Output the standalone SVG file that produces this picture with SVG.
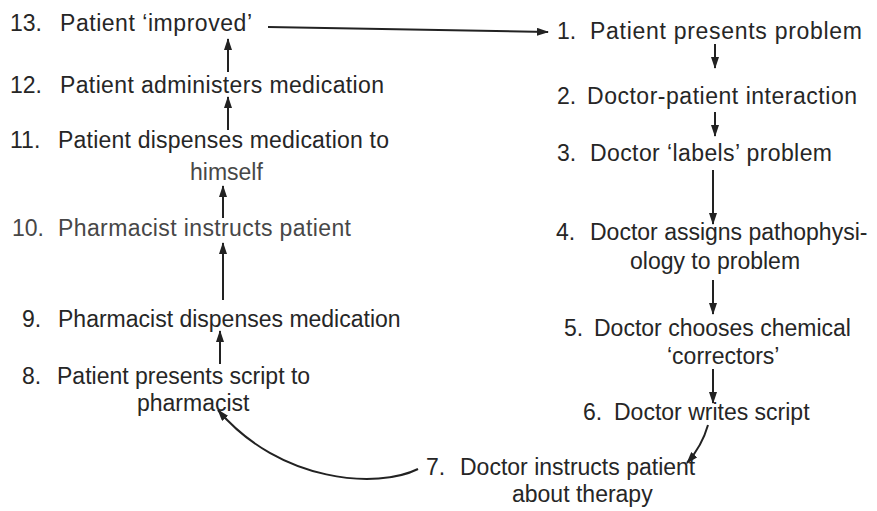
<svg xmlns="http://www.w3.org/2000/svg" width="877" height="511" viewBox="0 0 877 511">
<style>
text{font-family:"Liberation Sans",Arial,sans-serif;font-size:23px;fill:#262626;}
.lt{fill:#474747;}
.c{fill:none;stroke:#222;stroke-width:2;}
</style>
<defs>
<marker id="ah" viewBox="0 0 12 8" refX="11" refY="4" markerWidth="12" markerHeight="8" markerUnits="userSpaceOnUse" orient="auto">
<path d="M0,0 L12,4 L0,8 Z" fill="#222"/>
</marker>
</defs>
<rect width="877" height="511" fill="#fff"/>
<g id="n13"><text x="10" y="31">13.<tspan x="60" textLength="192" lengthAdjust="spacing">Patient ‘improved’</tspan></text></g>
<g id="n12"><text x="10" y="93">12.<tspan x="60" textLength="324" lengthAdjust="spacing">Patient administers medication</tspan></text></g>
<g id="n11"><text x="10" y="148">11.<tspan x="58" textLength="331" lengthAdjust="spacing">Patient dispenses medication to</tspan></text><text class="lt" x="190" y="180">himself</text></g>
<g id="n10"><text class="lt" x="12" y="236">10.<tspan x="58" textLength="293" lengthAdjust="spacing">Pharmacist instructs patient</tspan></text></g>
<g id="n9"><text x="22" y="327">9.<tspan x="58">Pharmacist dispenses medication</tspan></text></g>
<g id="n8"><text x="22" y="384">8.<tspan x="57">Patient presents script to</tspan></text><text x="137" y="411">pharmacist</text></g>
<g id="n1"><text x="557" y="39">1.<tspan x="590" textLength="272" lengthAdjust="spacing">Patient presents problem</tspan></text></g>
<g id="n2"><text x="557" y="104">2.<tspan x="587" textLength="270" lengthAdjust="spacing">Doctor-patient interaction</tspan></text></g>
<g id="n3"><text x="557" y="161">3.<tspan x="590" textLength="242" lengthAdjust="spacing">Doctor ‘labels’ problem</tspan></text></g>
<g id="n4"><text x="556" y="240">4.<tspan x="590">Doctor assigns pathophysi-</tspan></text><text x="630" y="269">ology to problem</text></g>
<g id="n5"><text x="564" y="336">5.<tspan x="594">Doctor chooses chemical</tspan></text><text x="667" y="364">‘correctors’</text></g>
<g id="n6"><text x="583" y="420">6.<tspan x="614">Doctor writes script</tspan></text></g>
<g id="n7"><text x="426" y="475">7.<tspan x="460">Doctor instructs patient</tspan></text><text x="512" y="502">about therapy</text></g>
<g id="connectors" class="c" marker-end="url(#ah)">
<path d="M268,27 L548,32"/>
<path d="M228,72 L228,39"/>
<path d="M228,130 L228,97"/>
<path d="M223,218 L223,186"/>
<path d="M223,300 L223,243"/>
<path d="M220,364 L220,331"/>
<path d="M715,44 L715,68"/>
<path d="M715,112 L715,136"/>
<path d="M713,170 L713,224"/>
<path d="M713,280 L713,314"/>
<path d="M713,369 L713,403"/>
<path d="M708,425 Q702,446 687,463"/>
<path d="M418,469 C378,489 280,483 218,410"/>
</g>
</svg>
